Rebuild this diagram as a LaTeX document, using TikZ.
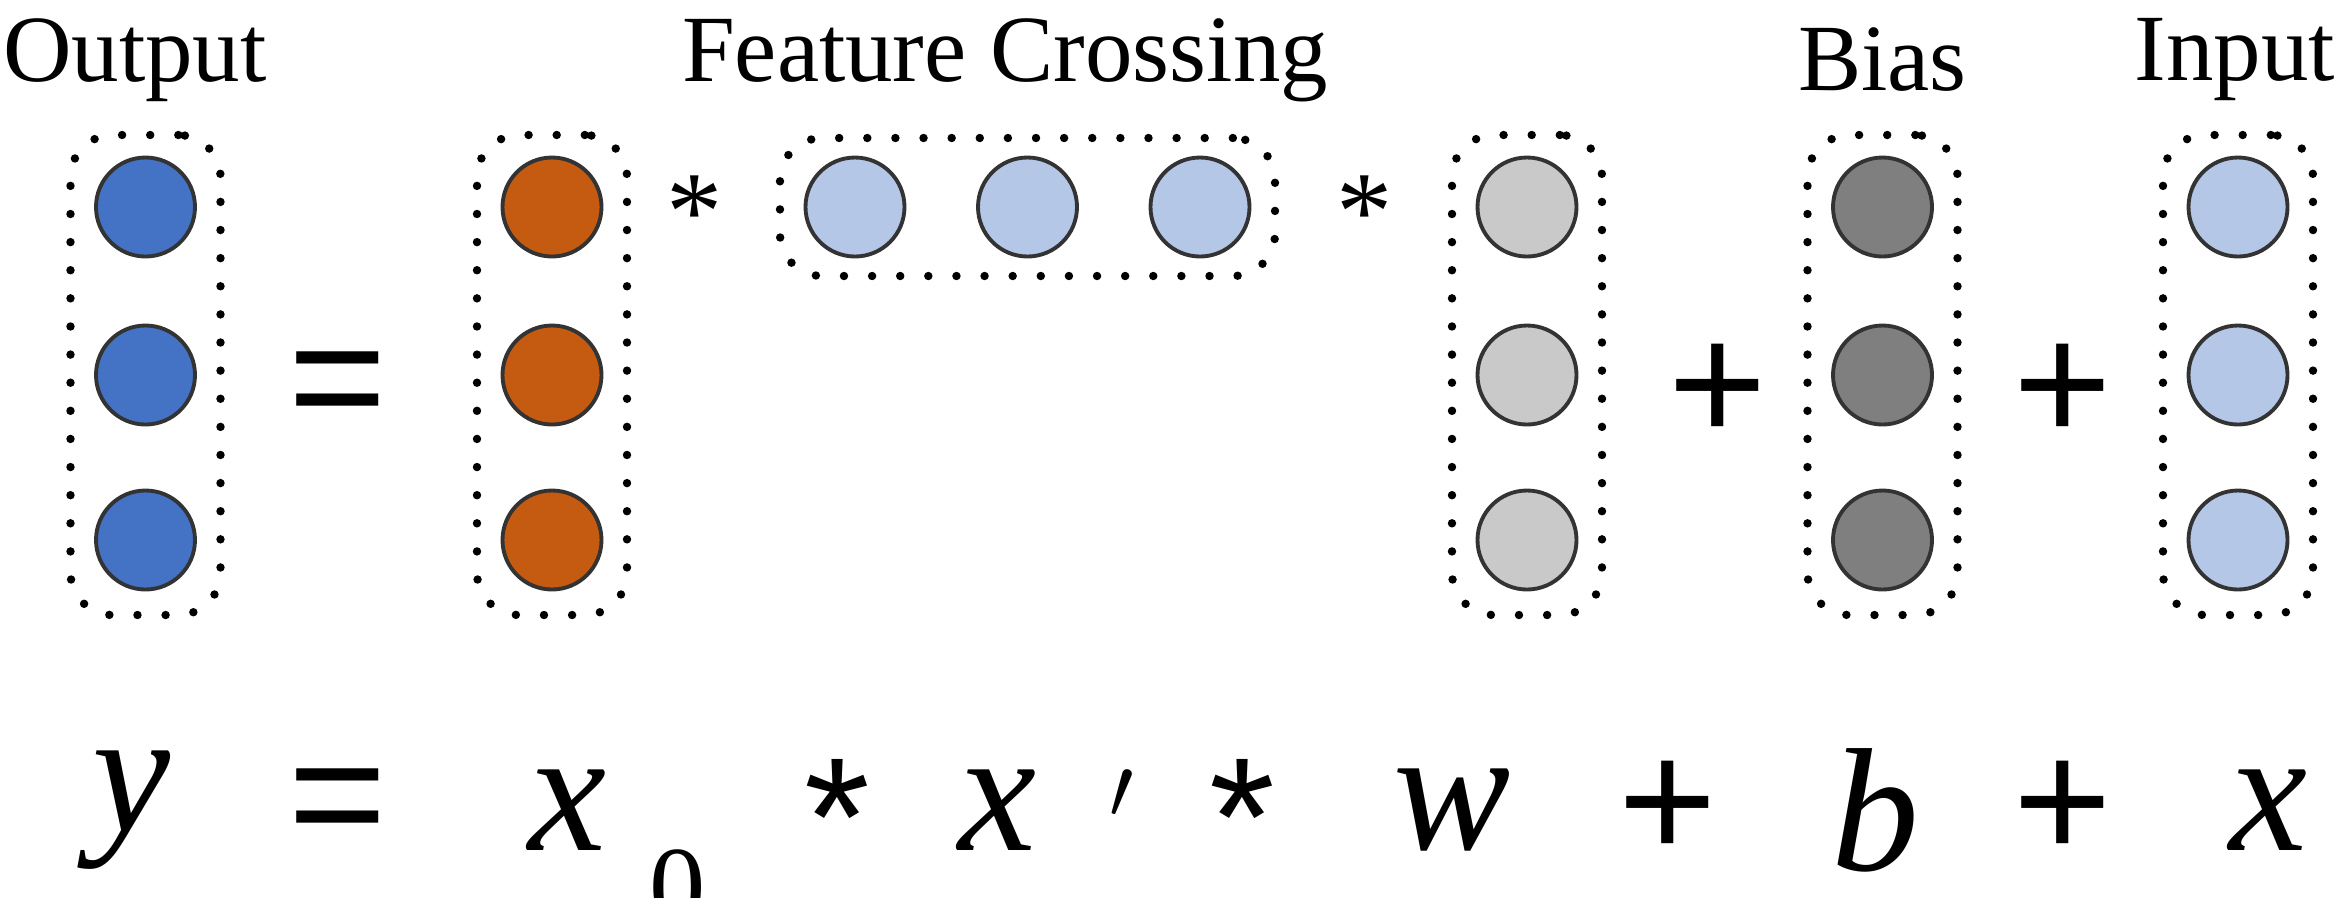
\documentclass[tikz,border=0pt]{standalone}
\usepackage{fontspec}
\setmainfont{Liberation Serif}
\newfontfamily\sansf{Liberation Sans}
\begin{document}
\begin{tikzpicture}[x=0.015cm,y=-0.015cm,
  c/.style={circle,draw=black!80,line width=1.1pt,minimum size=0.99cm,inner sep=0},
  box/.style={draw,line width=2.4pt,line cap=round,dash pattern=on 0pt off 8pt,rounded corners=12pt},
  lab/.style={font=\fontsize{27}{28}\selectfont},
  eq/.style={font=\fontsize{50}{52}\selectfont\itshape},
  op/.style={font=\sansf\fontsize{48}{50}\selectfont}]
\useasboundingbox (0,0) rectangle (1562,598);
\definecolor{ob}{HTML}{4472C4}\definecolor{or}{HTML}{C55A11}
\definecolor{lb}{HTML}{B4C7E7}\definecolor{lg}{HTML}{C9C9C9}\definecolor{dg}{HTML}{7F7F7F}
\foreach \n/\x/\col in {o/97/ob,x/368/or,w/1018/lg,b/1255/dg,i/1492/lb}{
  \foreach \k/\y in {1/138,2/250,3/360}{\node[c,fill=\col] (\n\k) at (\x,\y) {};}
  \node[box,minimum width=1.5cm,minimum height=4.8cm] (\n box) at (\x,250) {};}
\foreach \k/\x in {1/570,2/685,3/800}{\node[c,fill=lb] (f\k) at (\x,138) {};}
\node[box,minimum width=4.95cm,minimum height=1.38cm] (fbox) at (685,138) {};
\node[lab] (t1) at (90,40) {Output};
\node[lab] (t2) at (670,40) {Feature Crossing};
\node[lab] (t3) at (1255,40) {Bias};
\node[lab] (t4) at (1490,40) {Input};
\node[font=\fontsize{32}{32}\selectfont] (s1) at (463,142) {*};
\node[font=\fontsize{32}{32}\selectfont] (s2) at (910,142) {*};
\node[op] (e1) at (225,262) {=};
\node[op] (p1) at (1145,262) {+};
\node[op] (p2) at (1375,262) {+};
\node[eq] (y) at (88,540) {y};
\node[op] (e2) at (225,540) {=};
\node[eq] (x0) at (378,540) {x};
\node[font=\fontsize{32}{32}\selectfont] (z) at (452,592) {0};
\node[op] (m1) at (558,545) {*};
\node[eq] (xp) at (698,540) {x \,$'$};
\node[op] (m2) at (828,545) {*};
\node[eq] (w) at (968,540) {w};
\node[op] (p3) at (1112,540) {+};
\node[eq] (b) at (1250,540) {b};
\node[op] (p4) at (1375,540) {+};
\node[eq] (x) at (1512,540) {x};
\end{tikzpicture}
\end{document}
